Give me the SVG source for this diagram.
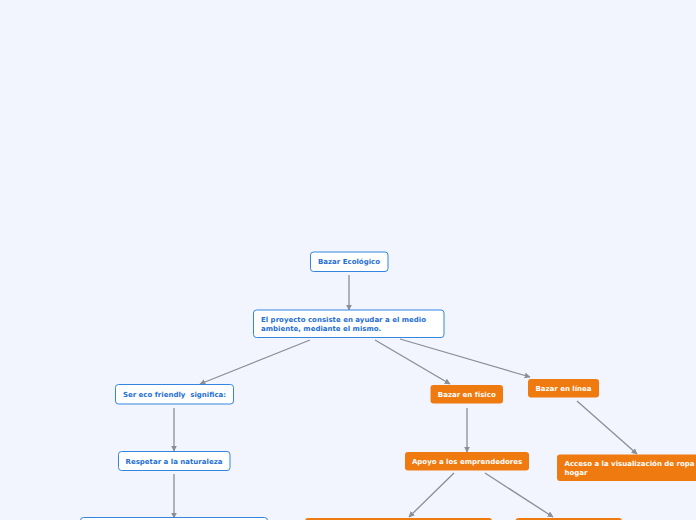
<svg xmlns="http://www.w3.org/2000/svg" width="696" height="520" viewBox="0 0 696 520">
<style>
.bg{fill:#f2f5fd}
.bn{fill:#ffffff;stroke:#3385e0;stroke-width:1}
.on{fill:#ef7a10}
.bt{font-family:"DejaVu Sans",Verdana,sans-serif;font-weight:bold;font-size:7px;fill:#1f6fd1;white-space:pre}
.wt{font-family:"DejaVu Sans",Verdana,sans-serif;font-weight:bold;font-size:7px;fill:#ffffff}
.c{stroke:#8a8e98;stroke-width:1.3;fill:none;marker-end:url(#ah)}
</style>
<defs>
<marker id="ah" viewBox="0 0 10 10" refX="9" refY="5" markerWidth="6" markerHeight="6" markerUnits="userSpaceOnUse" orient="auto">
<path d="M0,0 L10,5 L0,10 z" fill="#8a8e98"/>
</marker>
</defs>
<rect class="bg" width="696" height="520"/>
<g id="connectors">
<line class="c" x1="349" y1="275" x2="349" y2="310"/>
<line class="c" x1="310" y1="340" x2="200" y2="384"/>
<line class="c" x1="375" y1="340" x2="450" y2="384"/>
<line class="c" x1="400" y1="339" x2="530" y2="377"/>
<line class="c" x1="174" y1="408" x2="174" y2="451"/>
<line class="c" x1="174" y1="474" x2="174" y2="518"/>
<line class="c" x1="467" y1="408" x2="467" y2="452"/>
<line class="c" x1="577" y1="401" x2="637" y2="454"/>
<line class="c" x1="454" y1="473" x2="409" y2="517"/>
<line class="c" x1="485" y1="473" x2="553" y2="517"/>
</g>
<g id="n1"><rect class="bn" x="310.5" y="252" width="77.5" height="19.5" rx="3"/><text class="bt" x="349" y="264" text-anchor="middle">Bazar Ecológico</text></g>
<g id="n2"><rect class="bn" x="253.5" y="310" width="190.5" height="27.5" rx="3"/><text class="bt" x="261" y="321.5">El proyecto consiste en ayudar a el medio</text><text class="bt" x="261" y="330.5">ambiente, mediante el mismo.</text></g>
<g id="n3"><rect class="bn" x="115.5" y="384.5" width="118" height="19.5" rx="3"/><text class="bt" x="174.5" y="396.5" text-anchor="middle" xml:space="preserve">Ser eco friendly  significa:</text></g>
<g id="n4"><rect class="bn" x="118.5" y="451.5" width="111.5" height="19" rx="3"/><text class="bt" x="174" y="463.5" text-anchor="middle">Respetar a la naturaleza</text></g>
<g id="n5"><rect class="bn" x="80.5" y="517.5" width="187" height="20" rx="3"/></g>
<g id="n6"><rect class="on" x="430.5" y="385" width="72.5" height="18.5" rx="3"/><text class="wt" x="466.8" y="396.5" text-anchor="middle">Bazar en físico</text></g>
<g id="n7"><rect class="on" x="528" y="379" width="71" height="18.5" rx="3"/><text class="wt" x="563.5" y="390.5" text-anchor="middle">Bazar en línea</text></g>
<g id="n8"><rect class="on" x="405" y="452" width="124" height="18.5" rx="3"/><text class="wt" x="467" y="463.5" text-anchor="middle">Apoyo a los emprendedores</text></g>
<g id="n9"><rect class="on" x="557" y="454.5" width="145" height="26.5" rx="3"/><text class="wt" x="564.5" y="465.5">Acceso a la visualización de ropa</text><text class="wt" x="564.5" y="474.5">hogar</text></g>
<g id="n10"><rect class="on" x="305" y="518" width="187" height="20" rx="3"/></g>
<g id="n11"><rect class="on" x="515.5" y="518" width="106.5" height="20" rx="3"/></g>
</svg>
